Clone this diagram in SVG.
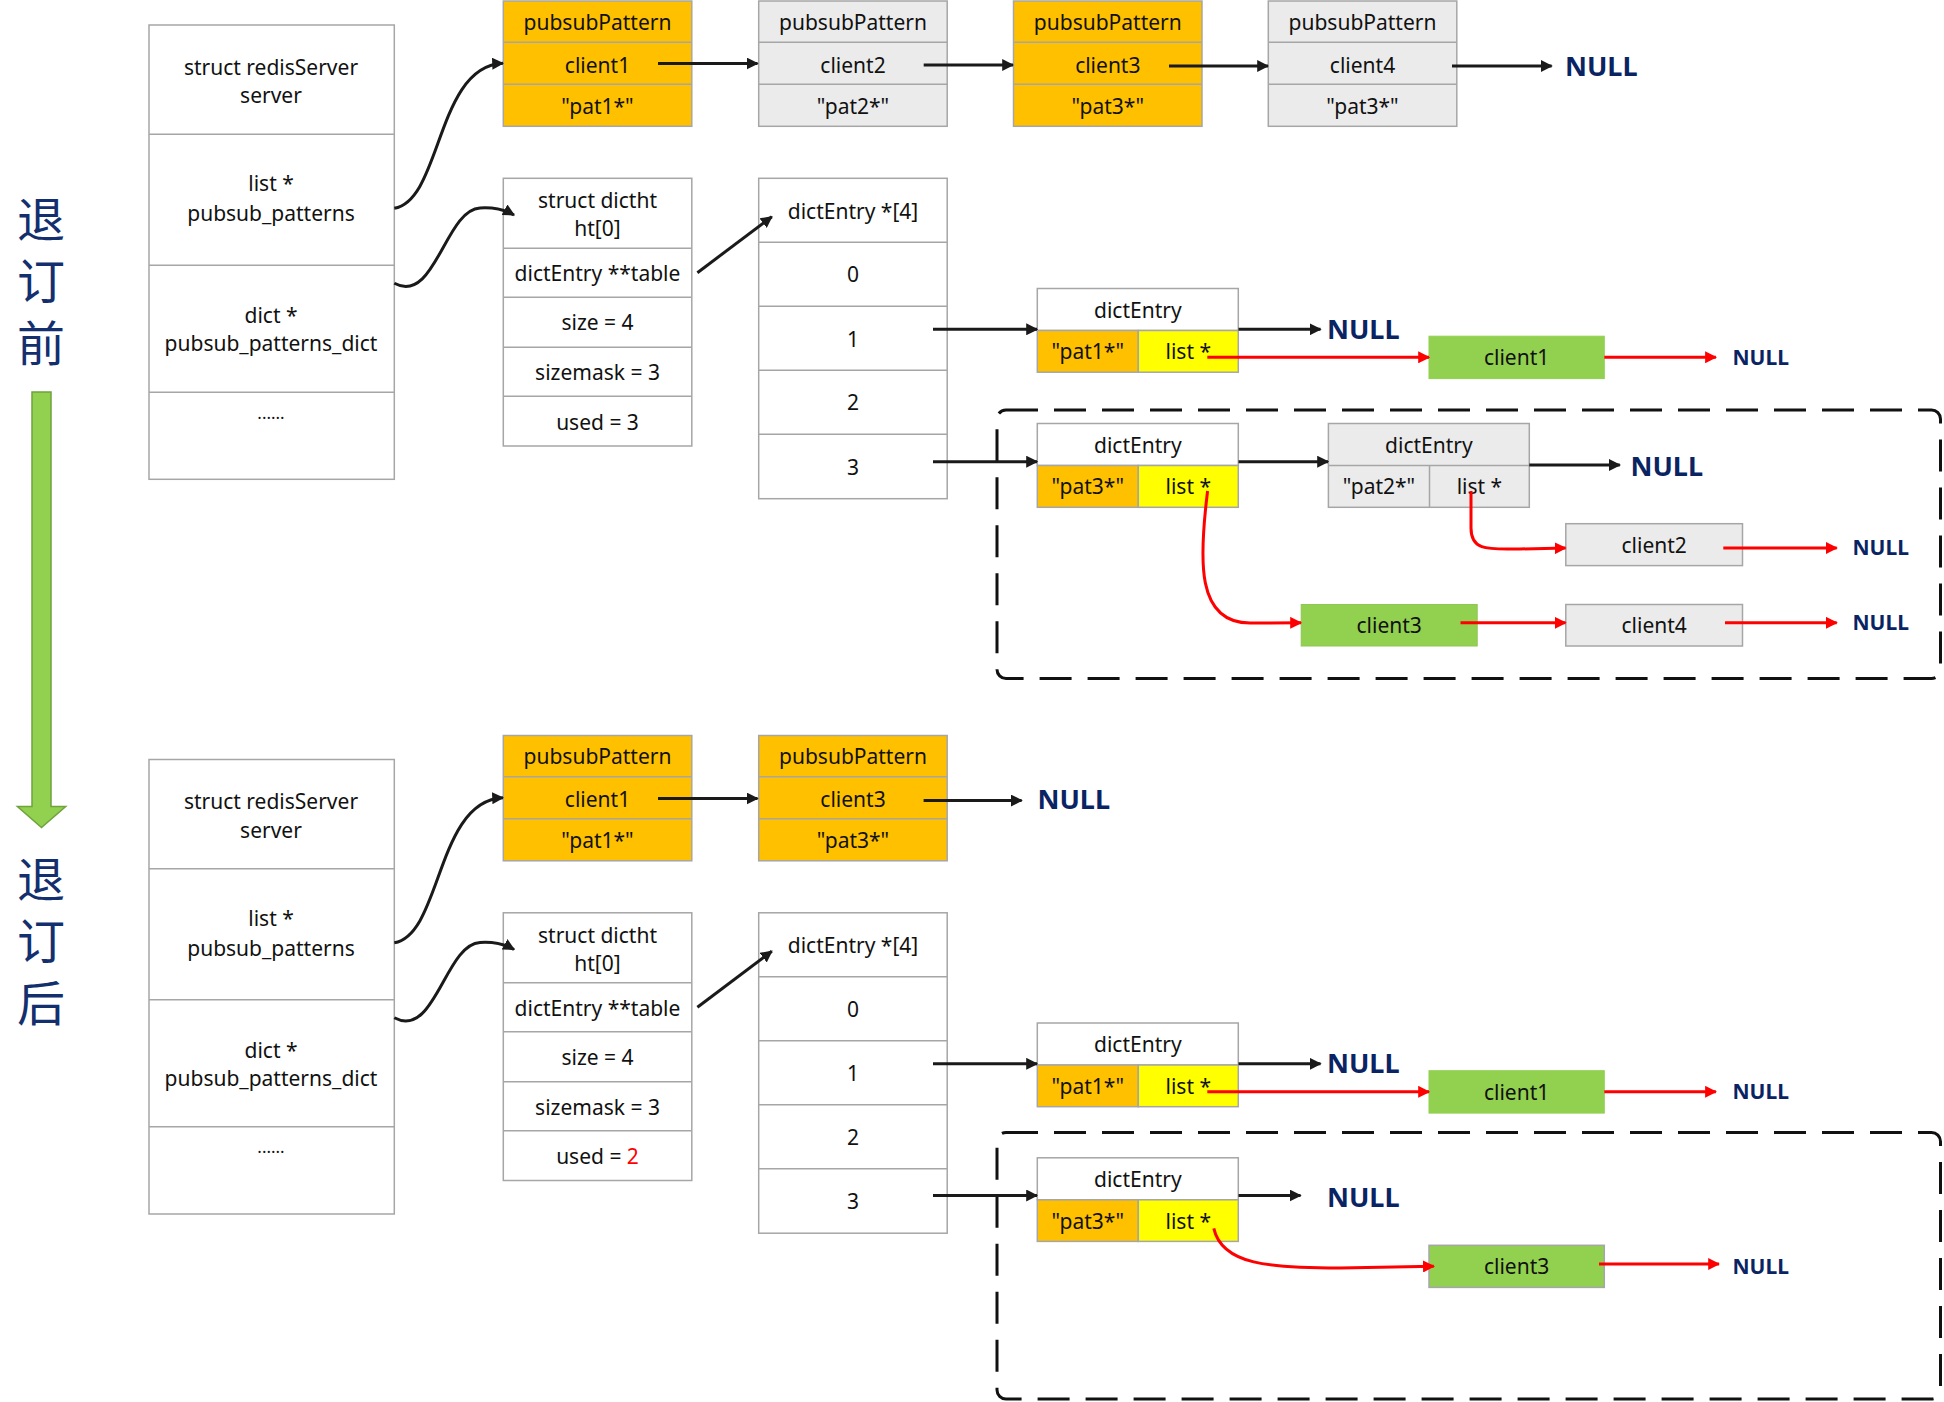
<svg xmlns="http://www.w3.org/2000/svg" width="1944" height="1402" viewBox="0 0 1944 1402">
<defs>
<style>
.t{font-family:"Noto Sans","Liberation Sans",sans-serif;font-size:21px;fill:#111;text-anchor:middle;dominant-baseline:central}
.n{font-family:"Noto Sans","Liberation Sans",sans-serif;font-weight:bold;font-size:27px;fill:#0A2463;dominant-baseline:central}
.ns{font-family:"Noto Sans","Liberation Sans",sans-serif;font-weight:bold;font-size:21px;fill:#0A2463;dominant-baseline:central}
.zh{font-family:"Noto Sans CJK SC","Noto Sans CJK JP",sans-serif;font-size:48px;fill:#142F6E;writing-mode:vertical-rl;letter-spacing:14px}
.box{stroke:#A6A6A6;stroke-width:1.5}
.w{fill:#FFFFFF}.o{fill:#FFC000}.g{fill:#EBEBEB}.y{fill:#FFFF00}.gr{fill:#92D050}
.ln{stroke:#A6A6A6;stroke-width:1.5;fill:none}
.a{stroke:#1A1A1A;stroke-width:3;fill:none;marker-end:url(#ah)}
.r{stroke:#FF0000;stroke-width:3;fill:none;marker-end:url(#rh)}
.d{stroke:#111;stroke-width:3;fill:none;stroke-dasharray:32 16}
</style>
<marker id="ah" viewBox="0 0 10 10" refX="9" refY="5" markerWidth="12" markerHeight="12" markerUnits="userSpaceOnUse" orient="auto"><path d="M0,0 L10,5 L0,10 z" fill="#1A1A1A"/></marker>
<marker id="rh" viewBox="0 0 10 10" refX="9" refY="5" markerWidth="12" markerHeight="12" markerUnits="userSpaceOnUse" orient="auto"><path d="M0,0 L10,5 L0,10 z" fill="#FF0000"/></marker>
</defs>
<rect width="1944" height="1402" fill="#FFFFFF"/>

<!-- side labels -->
<g id="label-before">
<text class="zh" x="41" y="195">退订前</text>
</g>
<g id="down-arrow">
<path d="M32,392 L51,392 L51,806.6 L65.7,806.6 L41.5,827.6 L17.4,806.6 L32,806.6 Z" fill="#92D050" stroke="#6FA33B" stroke-width="1.5"/>
</g>
<g id="label-after">
<text class="zh" x="41" y="855">退订后</text>
</g>

<!-- ============ BEFORE ============ -->
<g id="server-before">
<rect class="box w" x="149" y="25" width="245.3" height="454.3"/>
<path class="ln" d="M149,134.3 H394.3 M149,265.3 H394.3 M149,392.3 H394.3"/>
<text class="t" x="271" y="66.7">struct redisServer</text>
<text class="t" x="271" y="95">server</text>
<text class="t" x="271" y="183.3">list *</text>
<text class="t" x="271" y="213.3">pubsub_patterns</text>
<text class="t" x="271" y="315">dict *</text>
<text class="t" x="271" y="343.3">pubsub_patterns_dict</text>
<text class="t" x="271" y="412" style="font-size:17px">......</text>
</g>

<g id="pp1-before">
<rect class="box o" x="503.3" y="1" width="188.5" height="125.3"/>
<path class="ln" d="M503.3,42.3 H691.8 M503.3,84.3 H691.8"/>
<text class="t" x="597.5" y="21.7">pubsubPattern</text>
<text class="t" x="597.5" y="64.5">client1</text>
<text class="t" x="597.5" y="106">"pat1*"</text>
</g>
<g id="pp2-before">
<rect class="box g" x="758.7" y="1" width="188.5" height="125.3"/>
<path class="ln" d="M758.7,42.3 H947.2 M758.7,84.3 H947.2"/>
<text class="t" x="853" y="21.7">pubsubPattern</text>
<text class="t" x="853" y="64.5">client2</text>
<text class="t" x="853" y="106">"pat2*"</text>
</g>
<g id="pp3-before">
<rect class="box o" x="1013.5" y="1" width="188.5" height="125.3"/>
<path class="ln" d="M1013.5,42.3 H1202 M1013.5,84.3 H1202"/>
<text class="t" x="1107.8" y="21.7">pubsubPattern</text>
<text class="t" x="1107.8" y="64.5">client3</text>
<text class="t" x="1107.8" y="106">"pat3*"</text>
</g>
<g id="pp4-before">
<rect class="box g" x="1268.3" y="1" width="188.5" height="125.3"/>
<path class="ln" d="M1268.3,42.3 H1456.8 M1268.3,84.3 H1456.8"/>
<text class="t" x="1362.5" y="21.7">pubsubPattern</text>
<text class="t" x="1362.5" y="64.5">client4</text>
<text class="t" x="1362.5" y="106">"pat3*"</text>
</g>
<g id="null-pp-before"><text class="n" x="1565" y="65">NULL</text></g>

<g id="dictht-before">
<rect class="box w" x="503.3" y="178.3" width="188.5" height="267.7"/>
<path class="ln" d="M503.3,248.3 H691.8 M503.3,297.3 H691.8 M503.3,347.3 H691.8 M503.3,396.3 H691.8"/>
<text class="t" x="597.5" y="200">struct dictht</text>
<text class="t" x="597.5" y="228.3">ht[0]</text>
<text class="t" x="597.5" y="273">dictEntry **table</text>
<text class="t" x="597.5" y="322.3">size = 4</text>
<text class="t" x="597.5" y="372">sizemask = 3</text>
<text class="t" x="597.5" y="421.5">used = 3</text>
</g>

<g id="table-before">
<rect class="box w" x="758.7" y="178.3" width="188.5" height="320.4"/>
<path class="ln" d="M758.7,242.3 H947.2 M758.7,306.3 H947.2 M758.7,370.3 H947.2 M758.7,434.3 H947.2"/>
<text class="t" x="853" y="210.5">dictEntry *[4]</text>
<text class="t" x="853" y="274.3">0</text>
<text class="t" x="853" y="338.5">1</text>
<text class="t" x="853" y="402.3">2</text>
<text class="t" x="853" y="466.5">3</text>
</g>

<g id="entry-pat1-before">
<rect class="box w" x="1037.3" y="288.5" width="201" height="42"/>
<rect class="box o" x="1037.3" y="330.5" width="101" height="41.7"/>
<rect class="box y" x="1138.3" y="330.5" width="100" height="41.7"/>
<text class="t" x="1137.8" y="309.5">dictEntry</text>
<text class="t" x="1087.8" y="351.3">"pat1*"</text>
<text class="t" x="1188.3" y="351.3">list *</text>
</g>
<g id="null-e1-before"><text class="n" x="1327" y="328">NULL</text></g>
<g id="client1-before">
<rect class="gr" x="1429" y="336.2" width="175.3" height="42.4" stroke="#92D050"/>
<text class="t" x="1516.6" y="357.4">client1</text>
</g>
<g id="null-c1-before"><text class="ns" x="1732.5" y="356.5">NULL</text></g>

<g id="group-pat3-before">
<rect class="d" x="997" y="410" width="943.5" height="268.5" rx="9"/>
</g>
<g id="entry-pat3-before">
<rect class="box w" x="1037.3" y="423.5" width="201" height="42"/>
<rect class="box o" x="1037.3" y="465.5" width="101" height="41.8"/>
<rect class="box y" x="1138.3" y="465.5" width="100" height="41.8"/>
<text class="t" x="1137.8" y="444.5">dictEntry</text>
<text class="t" x="1087.8" y="486.4">"pat3*"</text>
<text class="t" x="1188.3" y="486.4">list *</text>
</g>
<g id="entry-pat2-before">
<rect class="box g" x="1328.4" y="423.5" width="200.9" height="83.8"/>
<path class="ln" d="M1328.4,465.5 H1529.3 M1429.5,465.5 V507.3"/>
<text class="t" x="1428.9" y="444.5">dictEntry</text>
<text class="t" x="1379" y="486.4">"pat2*"</text>
<text class="t" x="1479.4" y="486.4">list *</text>
</g>
<g id="null-e2-before"><text class="n" x="1630.5" y="465">NULL</text></g>
<g id="client2-before">
<rect class="box g" x="1565.8" y="523.7" width="176.7" height="41.9"/>
<text class="t" x="1654.2" y="544.6">client2</text>
</g>
<g id="null-c2-before"><text class="ns" x="1852.5" y="546.5">NULL</text></g>
<g id="client3-before">
<rect class="gr" x="1301.2" y="604.5" width="176" height="41.5" stroke="#8FC552"/>
<text class="t" x="1389.2" y="625.3">client3</text>
</g>
<g id="client4-before">
<rect class="box g" x="1565.8" y="604.5" width="176.7" height="41.5"/>
<text class="t" x="1654.2" y="625.3">client4</text>
</g>
<g id="null-c4-before"><text class="ns" x="1852.5" y="622">NULL</text></g>

<!-- ============ AFTER ============ -->
<g id="server-after">
<rect class="box w" x="149" y="759.5" width="245.3" height="454.5"/>
<path class="ln" d="M149,868.8 H394.3 M149,999.8 H394.3 M149,1126.8 H394.3"/>
<text class="t" x="271" y="801.2">struct redisServer</text>
<text class="t" x="271" y="829.5">server</text>
<text class="t" x="271" y="917.8">list *</text>
<text class="t" x="271" y="947.8">pubsub_patterns</text>
<text class="t" x="271" y="1049.5">dict *</text>
<text class="t" x="271" y="1077.8">pubsub_patterns_dict</text>
<text class="t" x="271" y="1146.5" style="font-size:17px">......</text>
</g>

<g id="pp1-after">
<rect class="box o" x="503.3" y="735.5" width="188.5" height="125.3"/>
<path class="ln" d="M503.3,776.8 H691.8 M503.3,818.8 H691.8"/>
<text class="t" x="597.5" y="756.2">pubsubPattern</text>
<text class="t" x="597.5" y="798.5">client1</text>
<text class="t" x="597.5" y="840.3">"pat1*"</text>
</g>
<g id="pp2-after">
<rect class="box o" x="758.7" y="735.5" width="188.5" height="125.3"/>
<path class="ln" d="M758.7,776.8 H947.2 M758.7,818.8 H947.2"/>
<text class="t" x="853" y="756.2">pubsubPattern</text>
<text class="t" x="853" y="798.5">client3</text>
<text class="t" x="853" y="840.3">"pat3*"</text>
</g>
<g id="null-pp-after"><text class="n" x="1037.5" y="798.5">NULL</text></g>

<g id="dictht-after">
<rect class="box w" x="503.3" y="912.8" width="188.5" height="267.7"/>
<path class="ln" d="M503.3,982.8 H691.8 M503.3,1031.8 H691.8 M503.3,1081.8 H691.8 M503.3,1130.8 H691.8"/>
<text class="t" x="597.5" y="934.5">struct dictht</text>
<text class="t" x="597.5" y="962.8">ht[0]</text>
<text class="t" x="597.5" y="1007.5">dictEntry **table</text>
<text class="t" x="597.5" y="1056.8">size = 4</text>
<text class="t" x="597.5" y="1106.5">sizemask = 3</text>
<text class="t" x="597.5" y="1156">used = <tspan fill="#FF0000">2</tspan></text>
</g>

<g id="table-after">
<rect class="box w" x="758.7" y="912.8" width="188.5" height="320.4"/>
<path class="ln" d="M758.7,976.8 H947.2 M758.7,1040.8 H947.2 M758.7,1104.8 H947.2 M758.7,1168.8 H947.2"/>
<text class="t" x="853" y="945">dictEntry *[4]</text>
<text class="t" x="853" y="1008.8">0</text>
<text class="t" x="853" y="1073">1</text>
<text class="t" x="853" y="1136.8">2</text>
<text class="t" x="853" y="1201">3</text>
</g>

<g id="entry-pat1-after">
<rect class="box w" x="1037.3" y="1023" width="201" height="42"/>
<rect class="box o" x="1037.3" y="1065" width="101" height="41.7"/>
<rect class="box y" x="1138.3" y="1065" width="100" height="41.7"/>
<text class="t" x="1137.8" y="1044">dictEntry</text>
<text class="t" x="1087.8" y="1085.8">"pat1*"</text>
<text class="t" x="1188.3" y="1085.8">list *</text>
</g>
<g id="null-e1-after"><text class="n" x="1327" y="1062">NULL</text></g>
<g id="client1-after">
<rect class="gr" x="1429" y="1070.7" width="175.3" height="42.4" stroke="#92D050"/>
<text class="t" x="1516.6" y="1091.9">client1</text>
</g>
<g id="null-c1-after"><text class="ns" x="1732.5" y="1091">NULL</text></g>

<g id="group-pat3-after">
<rect class="d" x="997" y="1132.5" width="943.5" height="266.5" rx="9"/>
</g>
<g id="entry-pat3-after">
<rect class="box w" x="1037.3" y="1157.8" width="201" height="42"/>
<rect class="box o" x="1037.3" y="1199.8" width="101" height="41.6"/>
<rect class="box y" x="1138.3" y="1199.8" width="100" height="41.6"/>
<text class="t" x="1137.8" y="1178.8">dictEntry</text>
<text class="t" x="1087.8" y="1220.6">"pat3*"</text>
<text class="t" x="1188.3" y="1220.6">list *</text>
</g>
<g id="null-e3-after"><text class="n" x="1327" y="1196">NULL</text></g>
<g id="client3-after">
<rect class="gr box" x="1429" y="1245.3" width="175.3" height="42.1"/>
<text class="t" x="1516.6" y="1266.3">client3</text>
</g>
<g id="null-c3-after"><text class="ns" x="1732.5" y="1266">NULL</text></g>

<!-- ============ CONNECTORS ============ -->
<g id="connectors">
<!-- before -->
<path class="a" d="M394.3,208.3 C442,200 436,66 503,63.3"/>
<path class="a" d="M394.3,283.3 C435,305 445,210 480,208 C495,207 505,210 514,215"/>
<path class="a" d="M697.4,272.7 L771.8,216.7"/>
<path class="a" d="M658,63.5 L757.5,63.5"/>
<path class="a" d="M923.7,65 L1013,65"/>
<path class="a" d="M1169,66 L1268,66"/>
<path class="a" d="M1452,66 L1551.6,66"/>
<path class="a" d="M933,329.3 L1037,329.3"/>
<path class="a" d="M933,461.7 L1037,461.7"/>
<path class="a" d="M1238.5,329.3 L1320.5,329.3"/>
<path class="a" d="M1238.5,461.7 L1328,461.7"/>
<path class="a" d="M1529.3,465 L1619.8,465"/>
<path class="r" d="M1207.3,357.3 L1429,357.3"/>
<path class="r" d="M1604.3,357.3 L1715.9,357.3"/>
<path class="r" d="M1471,491 L1471,528 C1471,552 1490,549 1520,549 L1565.5,548"/>
<path class="r" d="M1723.3,548 L1836.7,548"/>
<path class="r" d="M1207.6,491 C1199,560 1196,623 1250,623 L1301,622.8"/>
<path class="r" d="M1460.5,622.8 L1565.5,622.8"/>
<path class="r" d="M1725,622.8 L1836.7,622.8"/>
<!-- after -->
<path class="a" d="M394.3,942.8 C442,934.5 436,800.5 503,797.8"/>
<path class="a" d="M394.3,1017.8 C435,1039.5 445,944.5 480,942.5 C495,941.5 505,944.5 514,949.5"/>
<path class="a" d="M697.4,1007.2 L771.8,951.2"/>
<path class="a" d="M658,798.5 L757.5,798.5"/>
<path class="a" d="M923.6,800.5 L1021.6,800.5"/>
<path class="a" d="M933,1063.8 L1037,1063.8"/>
<path class="a" d="M933,1195.5 L1037,1195.5"/>
<path class="a" d="M1238.5,1063.8 L1320.5,1063.8"/>
<path class="a" d="M1238.5,1195.5 L1300.5,1195.5"/>
<path class="r" d="M1207.3,1091.8 L1429,1091.8"/>
<path class="r" d="M1604.3,1091.8 L1715.9,1091.8"/>
<path class="r" d="M1213.8,1228.3 C1222,1265 1270,1268 1340,1268 L1433.8,1266.3"/>
<path class="r" d="M1599,1264 L1719,1264"/>
</g>
</svg>
